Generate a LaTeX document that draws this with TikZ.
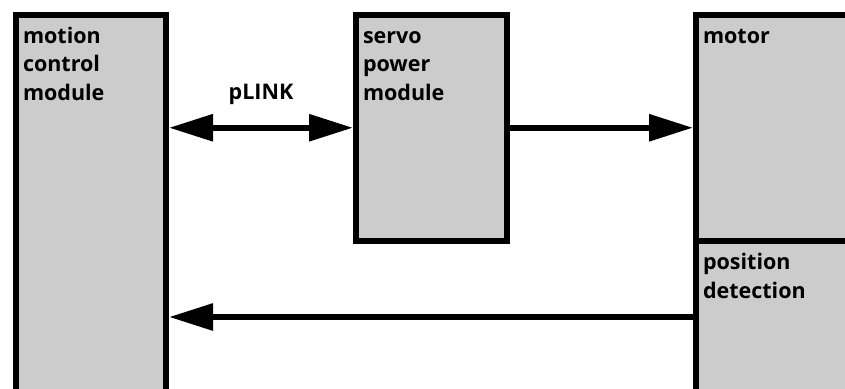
\documentclass[tikz,border=0pt]{standalone}
\usepackage{fontspec}
\setmainfont{Open Sans}
\usetikzlibrary{arrows.meta,positioning}
\definecolor{boxgray}{HTML}{CCCCCC}

\begin{document}
\begin{tikzpicture}[x=1pt, y=-1pt,
                    block/.style={rectangle, draw, fill=boxgray, line width=6pt, inner sep=0pt, anchor=north west},
                    lbl/.style={font=\fontsize{21.5}{28.5}\selectfont\bfseries, align=left, inner sep=0pt, outer sep=0pt},
                    arr/.style={line width=6pt, -{Triangle[length=44pt, width=26pt]}},
                    dblarr/.style={line width=6pt, {Triangle[length=44pt, width=26pt]}-{Triangle[length=44pt, width=26pt]}}
                ]
                \useasboundingbox (0,0) rectangle (845,388);
                \clip (0,0) rectangle (845,388);
                % boxes
                \node (mcm) [block, minimum width=150pt, minimum height=400pt] at (13,11.5) {};
                \node (srv) [block, minimum width=151pt, minimum height=226.5pt] at (353,11.5) {};
                \node (mot) [block, minimum width=160pt, minimum height=226.5pt] at (693,11.5) {};
                \node (pd)  [block, minimum width=160pt, minimum height=152pt] at (693,238) {};
                % labels
                \node (mcmtxt) [lbl, anchor=north west] at ([shift={(10,12)}]mcm.north west) {\strut motion\\control\\module};
                \node (srvtxt) [lbl, anchor=north west] at ([shift={(10,12)}]srv.north west) {\strut servo\\power\\module};
                \node (mottxt) [lbl, anchor=north west] at ([shift={(10,12)}]mot.north west) {\strut motor};
                \node (pdtxt)  [lbl, anchor=north west] at ([shift={(10,12)}]pd.north west) {\strut position\\detection};
                % connectors
                \draw[dblarr] (mcm.east |- srv.west) -- node (plink) [lbl, above=20pt] {\strut pLINK} (srv.west);
                \draw[arr] (srv.east) -- (mot.west);
                \draw[arr] (pd.west) -- (mcm.east |- pd.west);
\end{tikzpicture}
\end{document}
